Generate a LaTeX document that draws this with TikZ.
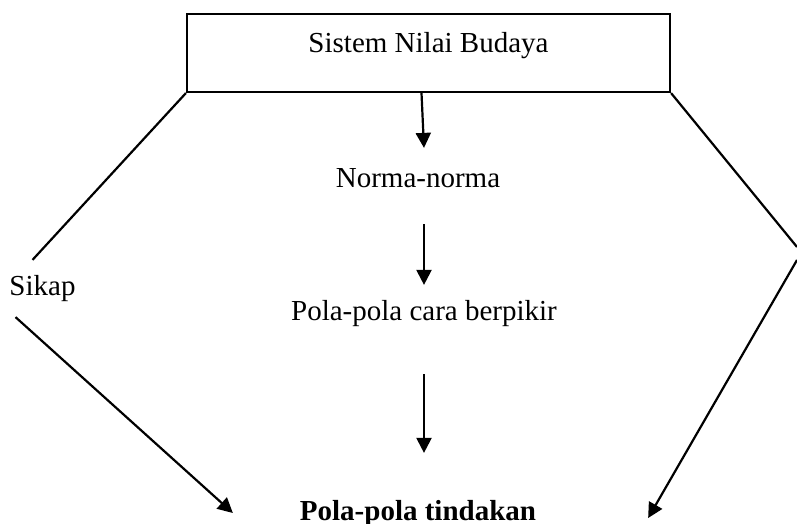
\documentclass[tikz,border=0pt]{standalone}
\usepackage{fontspec}
\setmainfont{Liberation Serif}
\usetikzlibrary{calc,arrows.meta,positioning}

\begin{document}
\begin{tikzpicture}[x=0.5pt,y=-0.5pt,line width=1.1pt,
  font=\fontsize{14.5}{17}\selectfont,
  lbl/.style={inner sep=0pt,text height=0.7em,text depth=0.25em,anchor=base},
  arr/.style={-{Triangle[length=7.5pt,width=7.5pt]}}]

\useasboundingbox (0,0) rectangle (797,524);

% boxes and texts
\node[draw,minimum width=241.5pt,minimum height=39pt,inner sep=0pt,
      text height=0pt,text depth=0pt] (sistem) at (428.5,53) {Sistem Nilai Budaya};
\node[lbl] (norma) at (418,187) {Norma-norma};
\node[lbl] (cara) at (424,320) {Pola-pola cara berpikir};
\node[lbl,font=\fontsize{14.5}{17}\selectfont\bfseries] (tindakan) at (418,520) {Pola-pola tindakan};
\node[lbl] (sikap) at (42.5,295) {Sikap};

\coordinate (kanan1) at (797,247);
\coordinate (kanan2) at (797,260);

% middle arrows
\draw[arr] ($(sistem.south -| cara)+(-2.5,0)$) -- ($(norma.north -| cara)+(0,-24)$);
\draw[arr] ($(norma.south -| cara)+(0,31)$) -- ($(cara.north)+(0,-20)$);
\draw[arr] ($(cara.south)+(0,48)$) -- ($(tindakan.north -| cara)+(0,-52)$);

% left side
\draw (sistem.south west) -- ($(sikap.north)+(-10,-20)$);
\draw[arr] ($(sikap.south)+(-27,16)$) -- ($(tindakan.base west)+(-66,-7)$);

% right side
\draw (sistem.south east) -- (kanan1);
\draw[arr] (kanan2) -- ($(tindakan.base east)+(111,-2)$);

\end{tikzpicture}
\end{document}
